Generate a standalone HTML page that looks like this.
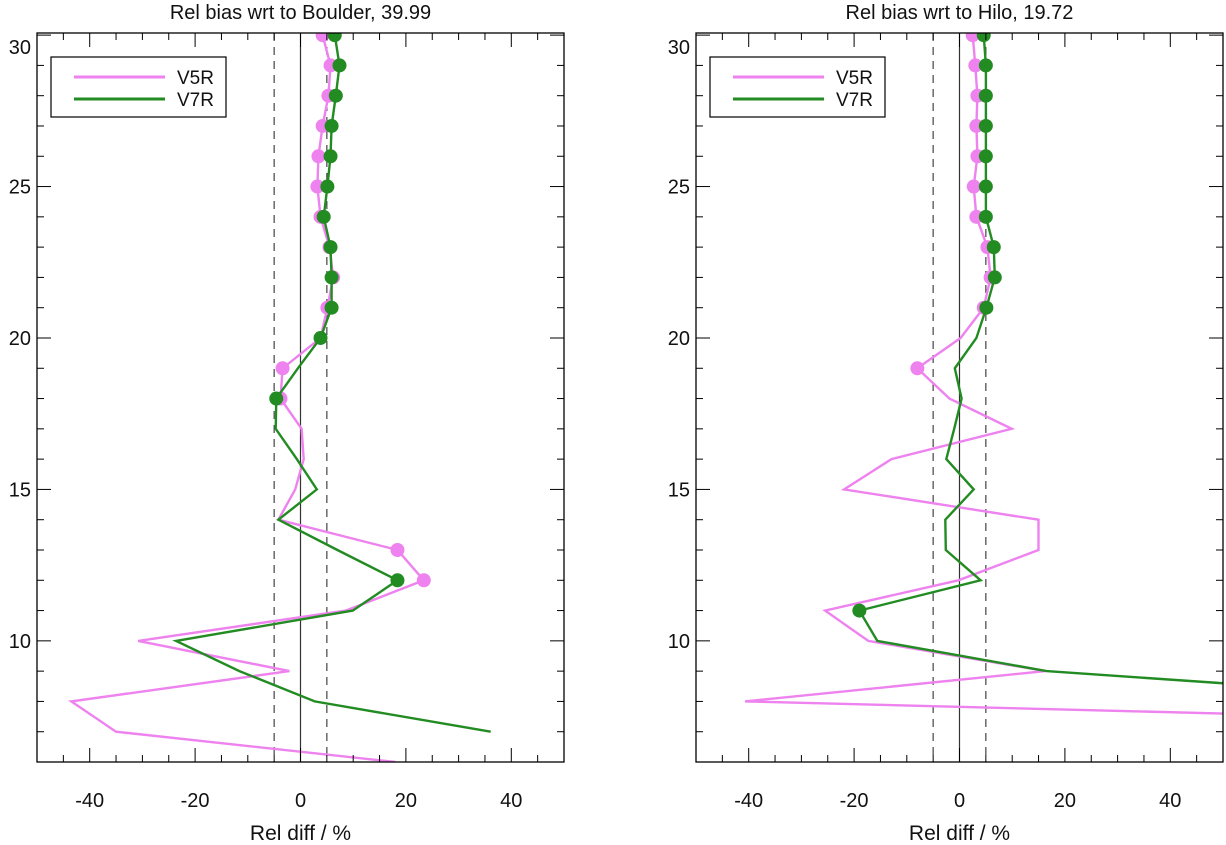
<!DOCTYPE html>
<html><head><meta charset="utf-8"><style>
body{margin:0;background:#fff;}
svg{display:block;font-family:"Liberation Sans",sans-serif;}
</style></head><body>
<svg id="chart" width="1226" height="845"></svg>
<script>
const levels=[30,29,28,27,26,25,24,23,22,21,20,19,18,17,16,15,14,13,12,11,10,9,8,7,6];
const bV5=[4.2,5.7,5.3,4.2,3.4,3.2,3.8,5.5,6.2,5.1,3.8,-3.4,-3.8,0.2,0.6,-1.0,-4.2,18.4,23.4,8.6,-30.8,-2.1,-43.5,-35,18];
const bV5m=[1,1,1,1,1,1,1,1,1,1,0,1,1,0,0,0,0,1,1,0,0,0,0,0,0];
const bV7=[6.5,7.4,6.7,5.9,5.7,5.1,4.4,5.7,5.9,5.9,3.8,-0.5,-4.6,-4.7,-0.7,3.1,-4.2,7,18.4,9.9,-23.6,-11.6,2.7,36.1,null];
const bV7m=[1,1,1,1,1,1,1,1,1,1,1,0,1,0,0,0,0,0,1,0,0,0,0,0,0];
const hV5=[2.5,3,3.4,3.2,3.4,2.7,3.2,5.3,5.9,4.6,0.2,-8,-1.9,9.9,-12.9,-21.9,15,15,-0.2,-25.5,-17.3,16.3,-40.7,186,null];
const hV5m=[1,1,1,1,1,1,1,1,1,1,0,1,0,0,0,0,0,0,0,0,0,0,0,0,0];
const hV7=[4.6,5,5,5,5,5,5,6.5,6.7,5.1,3.2,-0.9,0.4,-1.0,-2.5,2.7,-2.7,-2.6,4,-19,-15.6,16.5,100,null,null];
const hV7m=[1,1,1,1,1,1,1,1,1,1,0,0,0,0,0,0,0,0,0,1,0,0,0,0,0];
const xTicks=[-40,-20,0,20,40];
const yTicks=[10,15,20,25,30];
const NS='http://www.w3.org/2000/svg';
const svg=document.getElementById('chart');
function mk(t,a,p){const e=document.createElementNS(NS,t);for(const k in a)e.setAttribute(k,a[k]);(p||svg).appendChild(e);return e;}
const plotTop=33,plotBot=762,yMin=6,yMax=30.07;
function Y(v){return plotBot-(v-yMin)/(yMax-yMin)*(plotBot-plotTop);}
function panel(x0,x1,title,name,s5,m5,s7,m7){
  const X=v=>x0+(v+50)/100*(x1-x0);
  const g=mk('g',{});
  
  
  const cp='clip-'+name;
  const d=mk('defs',{},g);const c=mk('clipPath',{id:cp},d);mk('rect',{x:x0,y:plotTop,width:x1-x0,height:plotBot-plotTop},c);
  const ref=mk('g',{},g);
  
  
  mk('line',{x1:X(0),x2:X(0),y1:plotTop,y2:plotBot,stroke:'#333','stroke-width':1.2},ref);
  [-5,5].forEach(v=>mk('line',{x1:X(v),x2:X(v),y1:plotTop,y2:plotBot,stroke:'#444','stroke-width':1.2,'stroke-dasharray':'8,6'},ref));
  const ser=[[s5,m5,'#ee82ee','v5r-series'],[s7,m7,'#228b22','v7r-series']];
  ser.forEach(([s,m,col,nm])=>{
    const sg=mk('g',{'clip-path':'url(#'+cp+')'},g);
    
    
    let pts=[];
    s.forEach((v,i)=>{if(v!==null)pts.push(X(v).toFixed(1)+','+Y(levels[i]).toFixed(1));});
    mk('polyline',{points:pts.join(' '),fill:'none',stroke:col,'stroke-width':2.4},sg);
    s.forEach((v,i)=>{if(v!==null&&m[i]){const ci=mk('circle',{cx:X(v),cy:Y(levels[i]),r:7,fill:col},sg);
      
      }});
  });
  const ax=mk('g',{},g);
  
  
  mk('rect',{x:x0,y:plotTop,width:x1-x0,height:plotBot-plotTop,fill:'none',stroke:'#000','stroke-width':1.3},ax);
  for(let v=-50;v<=50;v+=5){const L=(v%20===0)?14:7;
    mk('line',{x1:X(v),x2:X(v),y1:plotBot,y2:plotBot-L,stroke:'#000','stroke-width':1},ax);
    mk('line',{x1:X(v),x2:X(v),y1:plotTop,y2:plotTop+L,stroke:'#000','stroke-width':1},ax);}
  for(let v=7;v<=30;v++){const L=(v%5===0)?14:7;
    mk('line',{x1:x0,x2:x0+L,y1:Y(v),y2:Y(v),stroke:'#000','stroke-width':1},ax);
    mk('line',{x1:x1,x2:x1-L,y1:Y(v),y2:Y(v),stroke:'#000','stroke-width':1},ax);}
  xTicks.forEach(v=>{const t=mk('text',{x:X(v),y:807,'text-anchor':'middle','font-size':20,fill:'#111'},ax);t.textContent=v;
    
    });
  yTicks.forEach(v=>{const yy=Math.max(Y(v)+7,54);const t=mk('text',{x:x0-6,y:yy,'text-anchor':'end','font-size':20,fill:'#111'},ax);t.textContent=v;
    
    });
  const tt=mk('text',{x:(x0+x1)/2,y:19,'text-anchor':'middle','font-size':20,fill:'#111'},g);tt.textContent=title;
  
  
  const xl=mk('text',{x:(x0+x1)/2,y:840,'text-anchor':'middle','font-size':21,fill:'#111'},g);xl.textContent='Rel diff / %';
  
  
  const lg=mk('g',{},g);
  
  
  const lx=x0+14;
  mk('rect',{x:lx,y:57,width:175,height:60,fill:'#fff',stroke:'#000','stroke-width':1.2},lg);
  [['V5R','#ee82ee',77],['V7R','#228b22',99]].forEach(([n,col,yy])=>{
    const e=mk('g',{},lg);
    
    
    mk('line',{x1:lx+23,x2:lx+114,y1:yy,y2:yy,stroke:col,'stroke-width':3},e);
    const t=mk('text',{x:lx+126,y:yy+7,'font-size':19,fill:'#111'},e);t.textContent=n;});
}
panel(37,564,'Rel bias wrt to Boulder, 39.99','boulder-panel',bV5,bV5m,bV7,bV7m);
panel(696,1223,'Rel bias wrt to Hilo, 19.72','hilo-panel',hV5,hV5m,hV7,hV7m);
</script>
</body></html>
